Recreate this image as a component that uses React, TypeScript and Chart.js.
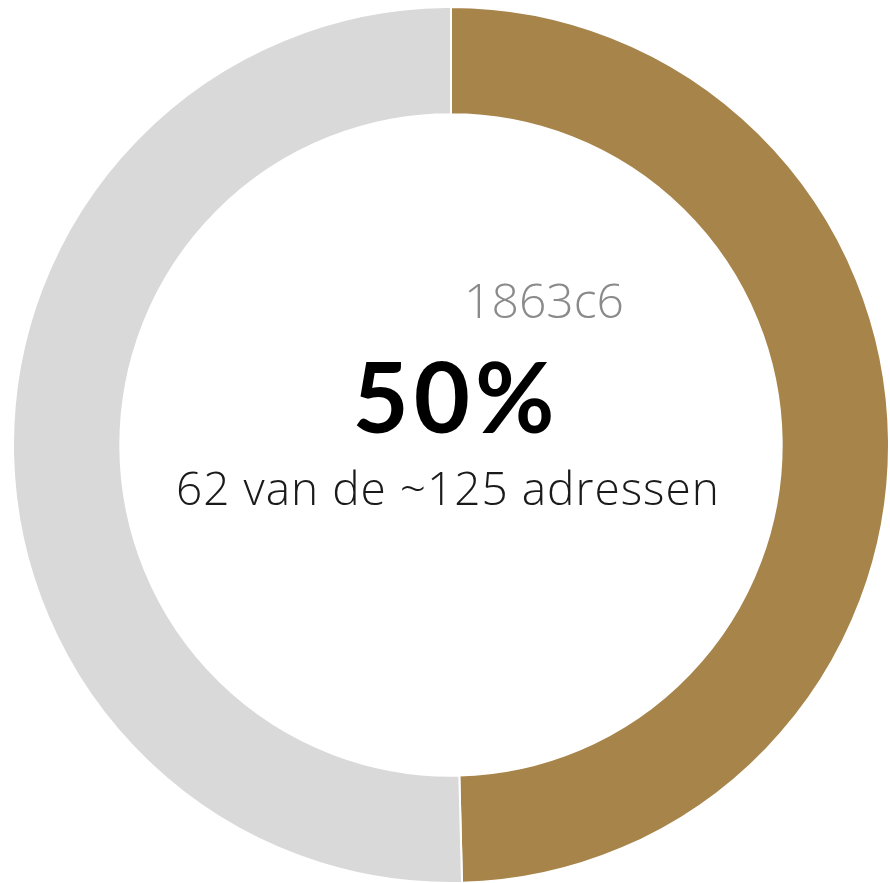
import React, { useEffect, useRef } from "react";
import { Chart, registerables } from "chart.js";

Chart.register(...registerables);

const categories: string[] = ["Aangemeld", "Overig"];
const values: number[] = [62, 63];
const colors: string[] = ["#A6844A", "#D9D9D9"];
const codeLabel = "1863c6";
const percentLabel = "50%";
const subLabel = "62 van de ~125 adressen";

const centerText = {
  id: "centerText",
  afterDraw(chart: any) {
    const { ctx, chartArea } = chart;
    const cx = (chartArea.left + chartArea.right) / 2;
    const cy = (chartArea.top + chartArea.bottom) / 2;
    ctx.save();
    ctx.textAlign = "center";
    ctx.textBaseline = "alphabetic";
    ctx.fillStyle = "#8a8a8a";
    ctx.font = "300 48px 'Open Sans'";
    ctx.fillText(codeLabel, cx + 93, cy - 127);
    ctx.fillStyle = "#000000";
    ctx.font = "bold 97px Lato";
    (ctx as any).letterSpacing = "5px";
    ctx.fillText(percentLabel, cx + 5, cy - 12);
    (ctx as any).letterSpacing = "1px";
    ctx.fillStyle = "#1a1a1a";
    ctx.font = "300 46px 'Open Sans'";
    ctx.fillText(subLabel, cx - 3, cy + 60);
    ctx.restore();
  },
};

export default function App() {
  const ref = useRef<HTMLCanvasElement | null>(null);
  useEffect(() => {
    if (!ref.current) return;
    const chart = new Chart(ref.current, {
      type: "doughnut",
      data: {
        labels: categories,
        datasets: [
          {
            data: values,
            backgroundColor: colors,
            borderColor: "#ffffff",
            borderWidth: 2,
          },
        ],
      },
      options: {
        animation: false,
        responsive: false,
        cutout: "75.5%",
        plugins: { legend: { display: false }, tooltip: { enabled: false } },
        layout: { padding: 0 },
      },
      plugins: [centerText],
    });
    return () => chart.destroy();
  }, []);
  return (
    <div style={{ position: "fixed", left: 0, top: 0, width: 890, height: 883, overflow: "hidden", background: "#fff" }}>
      <canvas ref={ref} width={878} height={878} style={{ position: "absolute", left: 12, top: 6, width: 878, height: 878 }} />
    </div>
  );
}
